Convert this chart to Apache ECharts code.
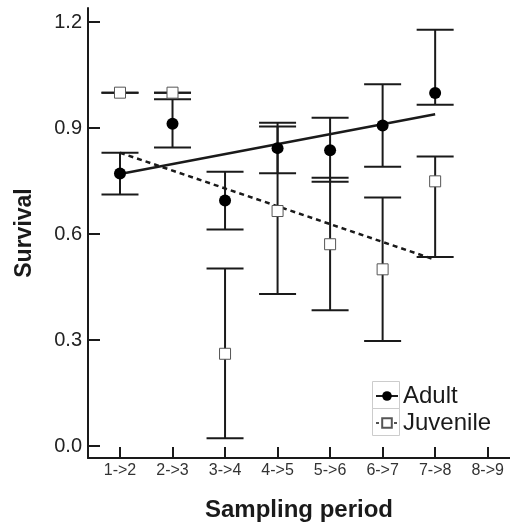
<!DOCTYPE html>
<html>
<head>
<meta charset="utf-8">
<script src="https://cdn.jsdelivr.net/npm/echarts@6/dist/echarts.min.js"></script>
<style>html,body{margin:0;padding:0;background:#fff}#c{width:510px;height:525px}</style>
</head>
<body>
<div id="c"></div>
<script>
const periods = ['1->2','2->3','3->4','4->5','5->6','6->7','7->8','8->9'];
const yTicks = [0, 0.3, 0.6, 0.9, 1.2];
const adultSurvival = [0.771, 0.912, 0.695, 0.843, 0.837, 0.907, 0.999];
const adultLower    = [0.712, 0.845, 0.613, 0.772, 0.748, 0.790, 0.966];
const adultUpper    = [0.830, 0.981, 0.776, 0.915, 0.929, 1.024, 1.178];
const juvenileSurvival = [1.000, 1.000, 0.261, 0.665, 0.571, 0.500, 0.749];
const juvenileLower    = [1.000, 1.000, 0.022, 0.430, 0.384, 0.297, 0.535];
const juvenileUpper    = [1.000, 1.000, 0.502, 0.904, 0.759, 0.703, 0.819];
const adultTrend = [0.770, 0.939];      // at period 1 and 7
const juvenileTrend = [0.830, 0.527];   // at period 1 and 7
const trendX = [1, 7];

const FONT = 'Liberation Sans, Arial, sans-serif';
const INK = '#1a1a1a';

function pts(vals){ return vals.map((v,i)=>[i+1, v]); }
function bars(lo, hi){ return lo.map((v,i)=>[i+1, v, hi[i]]); }

function errRender(params, api){
  const x = api.value(0);
  const lo = api.coord([x, api.value(1)]);
  const hi = api.coord([x, api.value(2)]);
  const hw = 18.5;
  const st = {stroke: INK, lineWidth: 2};
  return {type:'group', children:[
    {type:'line', shape:{x1:lo[0], y1:lo[1], x2:hi[0], y2:hi[1]}, style:st},
    {type:'line', shape:{x1:lo[0]-hw, y1:lo[1], x2:lo[0]+hw, y2:lo[1]}, style:st},
    {type:'line', shape:{x1:hi[0]-hw, y1:hi[1], x2:hi[0]+hw, y2:hi[1]}, style:st}
  ]};
}

const chart = echarts.init(document.getElementById('c'), null, {renderer:'canvas'});
chart.setOption({
  animation: false,
  backgroundColor: '#fff',
  grid: {left: 88, right: 0, top: 8, bottom: 67, containLabel: false, outerBoundsMode: 'none'},
  xAxis: {
    type: 'value', min: 0.391, max: 8.425,
    name: 'Sampling period', nameLocation: 'middle', nameGap: 40,
    nameTextStyle: {fontFamily: FONT, fontWeight: 'bold', fontSize: 24, color: INK},
    axisLine: {show: true, onZero: false, lineStyle: {color: INK, width: 2}},
    axisTick: {show: true, inside: true, length: 11, lineStyle: {color: INK, width: 2}, customValues: [1,2,3,4,5,6,7,8]},
    axisLabel: {show: true, fontFamily: FONT, fontSize: 16, color: '#333', margin: 5,
      customValues: [1,2,3,4,5,6,7,8], formatter: v => periods[Math.round(v)-1] || ''},
    splitLine: {show: false}
  },
  yAxis: {
    type: 'value', min: -0.034, max: 1.2396,
    name: 'Survival', nameLocation: 'middle', nameGap: 52,
    nameTextStyle: {fontFamily: FONT, fontWeight: 'bold', fontSize: 23, color: INK},
    axisLine: {show: true, onZero: false, lineStyle: {color: INK, width: 2}},
    axisTick: {show: true, inside: true, length: 12, lineStyle: {color: INK, width: 2}, customValues: yTicks},
    axisLabel: {show: true, fontFamily: FONT, fontSize: 20, color: '#222', margin: 6,
      customValues: yTicks, formatter: v => v.toFixed(1)},
    splitLine: {show: false}
  },
  legend: {
    orient: 'vertical', left: 370, top: 379,
    itemWidth: 22, itemHeight: 12, itemGap: 3,
    textStyle: {fontFamily: FONT, fontSize: 24, color: INK},
    data: [
      {name: 'Adult', lineStyle: {width: 2, opacity: 1, type: 'solid', color: INK}},
      {name: 'Juvenile', lineStyle: {width: 1.5, opacity: 1, type: [3,3], color: INK}}
    ]
  },
  graphic: [
    {type:'rect', shape:{x:372.5, y:381.5, width:27, height:27}, style:{fill:'none', stroke:'#cccccc', lineWidth:1}, z:100},
    {type:'rect', shape:{x:372.5, y:408.5, width:27, height:27}, style:{fill:'none', stroke:'#cccccc', lineWidth:1}, z:100}
  ],
  series: [
    {name:'AdultErr', type:'custom', renderItem: errRender, data: bars(adultLower, adultUpper), z: 2, silent: true},
    {name:'JuvenileErr', type:'custom', renderItem: errRender, data: bars(juvenileLower, juvenileUpper), z: 2, silent: true},
    {name:'AdultTrend', type:'line', data: trendX.map((x,i)=>[x, adultTrend[i]]), showSymbol:false, symbol:'none',
      lineStyle:{color:INK, width:2.5}, z: 3, silent: true},
    {name:'JuvenileTrend', type:'line', data: trendX.map((x,i)=>[x, juvenileTrend[i]]), showSymbol:false, symbol:'none',
      lineStyle:{color:INK, width:2.5, type:[5,4]}, z: 3, silent: true},
    {name:'Adult', type:'line', data: pts(adultSurvival), symbol:'circle', symbolSize: 12,
      itemStyle:{color:'#000'}, lineStyle:{width:0, opacity:0}, z: 5},
    {name:'Juvenile', type:'line', data: pts(juvenileSurvival), symbol:'rect', symbolSize: 11,
      itemStyle:{color:'#fff', borderColor:'#555', borderWidth:1}, lineStyle:{width:0, opacity:0}, z: 5}
  ]
});
</script>
</body>
</html>
